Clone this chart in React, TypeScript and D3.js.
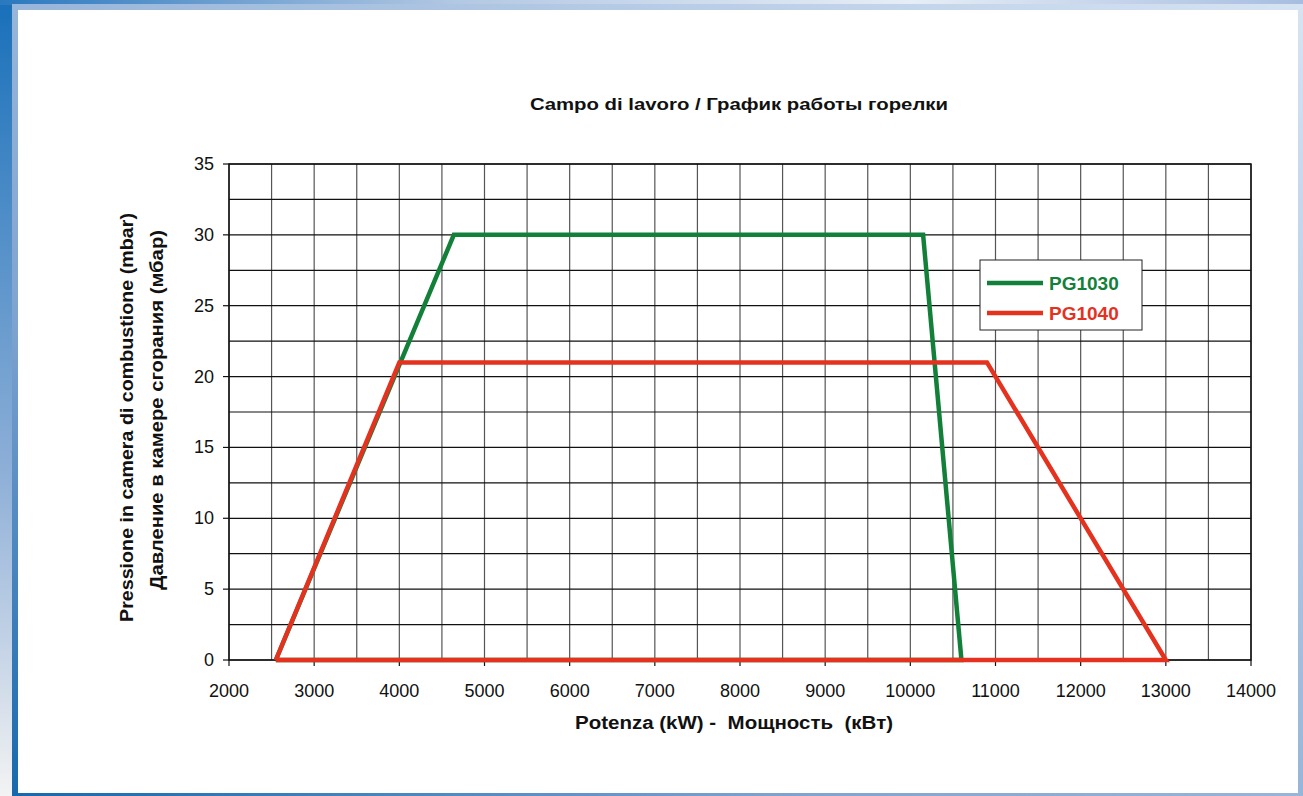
import React from "react";
import * as d3 from "d3";

const W = 1303;
const H = 796;

const title = "Campo di lavoro / График работы горелки";
const xTitle = "Potenza (kW) -  Мощность  (кВт)";
const yTitle1 = "Pressione in camera di combustione (mbar)";
const yTitle2 = "Давление в камере сгорания (мбар)";

const xTicks = [2000, 3000, 4000, 5000, 6000, 7000, 8000, 9000, 10000, 11000, 12000, 13000, 14000];
const yTicks = [0, 5, 10, 15, 20, 25, 30, 35];

const seriesNames = ["PG1030", "PG1040"];
const pg1030Power = [2550, 4640, 10150, 10600, 2550];
const pg1030Pressure = [0, 30, 30, 0, 0];
const pg1040Power = [2550, 4000, 10900, 13000, 2550];
const pg1040Pressure = [0, 21, 21, 0, 0];

const colors = ["#13803a", "#e4321f"];

export default function App() {
  const x = d3.scaleLinear().domain([2000, 14000]).range([229, 1251]);
  const y = d3.scaleLinear().domain([0, 35]).range([660, 164]);
  const vGrid = d3.range(2000, 14001, 500);
  const hGrid = d3.range(0, 35.01, 2.5);
  const line = d3
    .line<[number, number]>()
    .x((d) => x(d[0]))
    .y((d) => y(d[1]));
  const s1 = pg1030Power.map((p, i) => [p, pg1030Pressure[i]] as [number, number]);
  const s2 = pg1040Power.map((p, i) => [p, pg1040Pressure[i]] as [number, number]);
  const font = "'Liberation Sans', Arial, sans-serif";

  return (
    <svg
      width={W}
      height={H}
      style={{ position: "absolute", left: 0, top: 0, display: "block" }}
      fontFamily={font}
    >
      <defs>
        <linearGradient id="leftStrip" x1="0" y1="0" x2="0" y2="1">
          <stop offset="0" stopColor="#1870b9" />
          <stop offset="0.6" stopColor="#8fb0d8" />
          <stop offset="1" stopColor="#f3f3f3" />
        </linearGradient>
        <linearGradient id="topStrip" x1="0" y1="0" x2="1" y2="0">
          <stop offset="0" stopColor="#2a78bf" />
          <stop offset="0.35" stopColor="#b3c8e3" />
          <stop offset="0.7" stopColor="#e6edf6" />
          <stop offset="1" stopColor="#a7bde0" />
        </linearGradient>
        <linearGradient id="frame" x1="0" y1="1" x2="1" y2="0">
          <stop offset="0" stopColor="#1668ad" />
          <stop offset="0.3" stopColor="#7fa3d0" />
          <stop offset="1" stopColor="#d6e3f2" />
        </linearGradient>
      </defs>
      <rect x={0} y={0} width={W} height={H} fill="url(#leftStrip)" />
      <rect x={0} y={0} width={W} height={5} fill="url(#topStrip)" />
      <rect x={12} y={4} width={W - 12} height={H - 4} fill="url(#frame)" />
      <rect x={18} y={10} width={1280} height={783} fill="#ffffff" />

      {/* grid */}
      {vGrid.map((v) => (
        <line key={"v" + v} x1={x(v)} x2={x(v)} y1={y(35)} y2={y(0)} stroke="#555" strokeWidth={1.2} />
      ))}
      {hGrid.map((v) => (
        <line key={"h" + v} x1={x(2000)} x2={x(14000)} y1={y(v)} y2={y(v)} stroke="#111" strokeWidth={1.2} />
      ))}
      <rect x={x(2000)} y={y(35)} width={x(14000) - x(2000)} height={y(0) - y(35)} fill="none" stroke="#111" strokeWidth={1.5} />

      {/* ticks */}
      {yTicks.map((t) => (
        <g key={"yt" + t}>
          <line x1={x(2000) - 6} x2={x(2000)} y1={y(t)} y2={y(t)} stroke="#111" strokeWidth={1.2} />
          <text x={214} y={y(t) + 6} textAnchor="end" fontSize={18} fill="#111">
            {t}
          </text>
        </g>
      ))}
      {xTicks.map((t) => (
        <g key={"xt" + t}>
          <line x1={x(t)} x2={x(t)} y1={y(0)} y2={y(0) + 6} stroke="#111" strokeWidth={1.2} />
          <text x={x(t)} y={697} textAnchor="middle" fontSize={18} fill="#111">
            {t}
          </text>
        </g>
      ))}

      {/* series */}
      <path d={line(s1) || ""} fill="none" stroke={colors[0]} strokeWidth={4.5} strokeLinejoin="miter" />
      <path d={line(s2) || ""} fill="none" stroke={colors[1]} strokeWidth={4.5} strokeLinejoin="miter" />

      {/* titles */}
      <text
        x={530}
        y={110}
        fontSize={17}
        fontWeight="bold"
        fill="#111"
        textLength={418}
        lengthAdjust="spacingAndGlyphs"
      >
        {title}
      </text>
      <text
        x={575}
        y={729}
        fontSize={18}
        fontWeight="bold"
        fill="#111"
        textLength={318}
        lengthAdjust="spacingAndGlyphs"
        style={{ whiteSpace: "pre" }}
      >
        {xTitle}
      </text>
      <text
        transform="translate(133,622) rotate(-90)"
        fontSize={18}
        fontWeight="bold"
        fill="#111"
        textLength={409}
        lengthAdjust="spacingAndGlyphs"
      >
        {yTitle1}
      </text>
      <text
        transform="translate(163,590) rotate(-90)"
        fontSize={18}
        fontWeight="bold"
        fill="#111"
        textLength={360}
        lengthAdjust="spacingAndGlyphs"
      >
        {yTitle2}
      </text>

      {/* legend */}
      <rect x={980} y={260} width={162} height={70} fill="#fff" stroke="#222" strokeWidth={1} />
      {seriesNames.map((n, i) => (
        <g key={n}>
          <line x1={987} x2={1043} y1={283 + i * 30} y2={283 + i * 30} stroke={colors[i]} strokeWidth={4.5} />
          <text x={1049} y={290 + i * 30} fontSize={19} fontWeight="bold" fill={colors[i]}>
            {n}
          </text>
        </g>
      ))}
    </svg>
  );
}
